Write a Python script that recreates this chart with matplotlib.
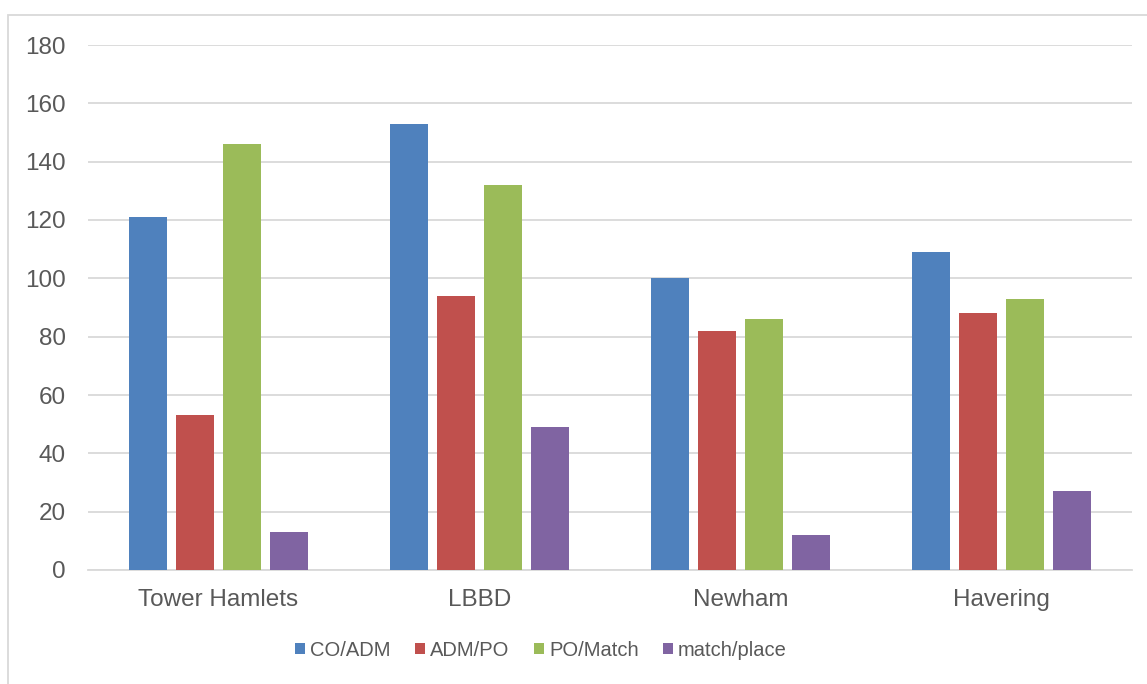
import matplotlib
matplotlib.use("Agg")
import matplotlib.pyplot as plt
from matplotlib.patches import Rectangle
import numpy as np

plt.rcParams['font.family'] = ['Liberation Sans', 'DejaVu Sans']

categories = ["Tower Hamlets", "LBBD", "Newham", "Havering"]
series_names = ["CO/ADM", "ADM/PO", "PO/Match", "match/place"]
co_adm = [121, 153, 100, 109]
adm_po = [53, 94, 82, 88]
po_match = [146, 132, 86, 93]
match_place = [13, 49, 12, 27]
yticks = [0, 20, 40, 60, 80, 100, 120, 140, 160, 180]

colors = ["#4F81BD", "#C0504D", "#9BBB59", "#8064A2"]
text_color = "#595959"
grid_color = "#D9D9D9"

fig = plt.figure(figsize=(11.47, 6.84), dpi=100)
ax = fig.add_axes([88/1147, 1-570/684, (1132-88)/1147, (570-45)/684])

x = np.arange(len(categories))
width = 0.142
step = 0.18
data = [co_adm, adm_po, po_match, match_place]
for i, (vals, name, c) in enumerate(zip(data, series_names, colors)):
    ax.bar(x + (i - 1.5) * step, vals, width, color=c, label=name, zorder=3)

ax.set_xlim(-0.5, len(categories) - 0.5)
ax.set_ylim(0, 180)
ax.set_yticks(yticks)
ax.set_xticks(x)
ax.set_xticklabels(categories)
ax.tick_params(axis='both', length=0, labelsize=17.5, colors=text_color)
ax.tick_params(axis='y', pad=16)
ax.tick_params(axis='x', pad=14)
ax.grid(axis='y', color=grid_color, linewidth=1.3, zorder=0)
for s in ['top', 'right', 'left']:
    ax.spines[s].set_visible(False)
ax.spines['bottom'].set_color(grid_color)
ax.spines['bottom'].set_linewidth(1.3)

leg = fig.legend(loc='center', bbox_to_anchor=(541/1147, 1-650/684), ncol=4,
                 frameon=False, fontsize=14.5, handlelength=0.5, handleheight=0.5,
                 handletextpad=0.25, columnspacing=1.2, labelcolor=text_color)

fig.patches.append(Rectangle((8/1147, -0.05), 1.2, 1-15/684+0.05,
                             transform=fig.transFigure, fill=False,
                             edgecolor=grid_color, linewidth=1.3))

fig.savefig("out.png", dpi=100)
